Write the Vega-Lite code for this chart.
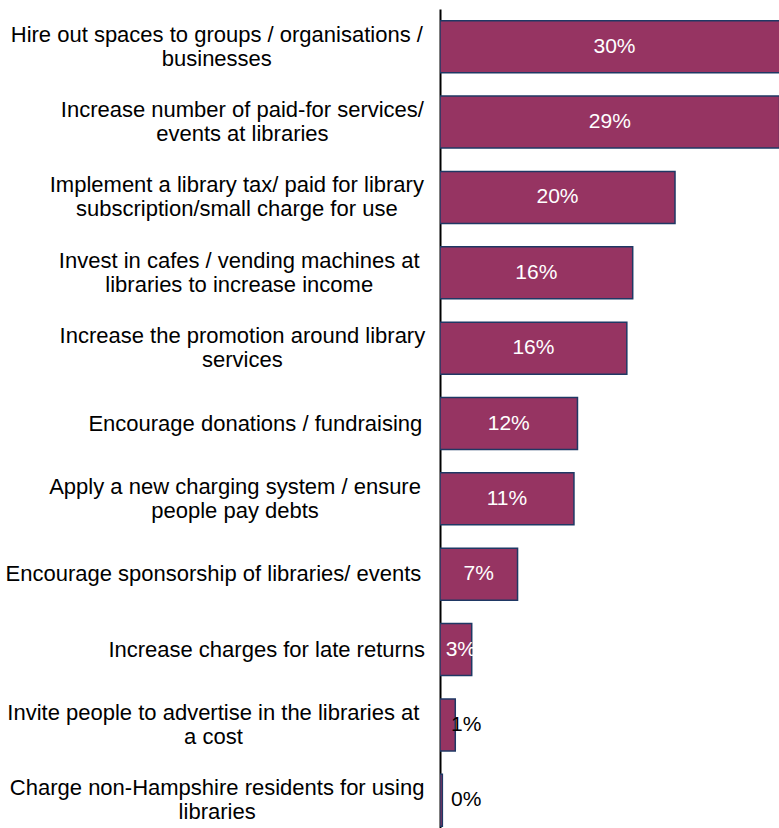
{
  "$schema": "https://vega.github.io/schema/vega-lite/v6.json",
  "width": 339,
  "height": 829,
  "autosize": "none",
  "padding": {"left": 440, "top": 9, "right": 0, "bottom": 0},
  "background": "white",
  "config": {"view": {"stroke": null}, "font": "Liberation Sans"},
  "data": {
    "values": [
      {"category": "Hire out spaces to groups / organisations /|businesses", "value": 0.297},
      {"category": "Increase number of paid-for services/|events at libraries", "value": 0.289},
      {"category": "Implement a library tax/ paid for library|subscription/small charge for use", "value": 0.200},
      {"category": "Invest in cafes / vending machines at|libraries to increase income", "value": 0.164},
      {"category": "Increase the promotion around library|services", "value": 0.159},
      {"category": "Encourage donations / fundraising", "value": 0.117},
      {"category": "Apply a new charging system / ensure|people pay debts", "value": 0.114},
      {"category": "Encourage sponsorship of libraries/ events", "value": 0.066},
      {"category": "Increase charges for late returns", "value": 0.027},
      {"category": "Invite people to advertise in the libraries at |a cost", "value": 0.013},
      {"category": "Charge non-Hampshire residents for using|libraries", "value": 0.002}
    ]
  },
  "encoding": {
    "y": {
      "field": "category",
      "type": "nominal",
      "sort": null,
      "scale": {"paddingInner": 0.31, "paddingOuter": 0.155},
      "axis": {
        "title": null,
        "ticks": false,
        "tickSize": 0,
        "domain": true,
        "domainColor": "#000000",
        "domainWidth": 2,
        "grid": false,
        "labelFont": "Liberation Sans",
        "labelFontSize": 22,
        "labelColor": "#000000",
        "labelLineHeight": 24,
        "labelAlign": "center",
        "labelPadding": 18,
        "labelLimit": 0,
        "labelExpr": "split(datum.label, '|')",
        "encoding": {
          "labels": {
            "dx": {"value": {"expr": "-11*max(0.55*length(split(datum.value,'|')[0]) - 0.285*length(replace(split(datum.value,'|')[0], regexp('[^iljtfrI /-]','g'), '')) + 0.18*length(replace(split(datum.value,'|')[0], regexp('[^A-HJ-Zw]','g'), '')) + 0.3*length(replace(split(datum.value,'|')[0], regexp('[^m]','g'), '')), 0.55*length(peek(split(datum.value,'|'))) - 0.285*length(replace(peek(split(datum.value,'|')), regexp('[^iljtfrI /-]','g'), '')) + 0.18*length(replace(peek(split(datum.value,'|')), regexp('[^A-HJ-Zw]','g'), '')) + 0.3*length(replace(peek(split(datum.value,'|')), regexp('[^m]','g'), '')))"}},
            "dy": {"value": {"expr": "-12*(length(split(datum.value,'|'))-1)"}}
          }
        }
      }
    }
  },
  "layer": [
    {
      "mark": {"type": "bar", "fill": "#963462", "stroke": "#1f3864", "strokeWidth": 1.5, "clip": true},
      "encoding": {
        "x": {"field": "value", "type": "quantitative", "scale": {"domain": [0, 0.2885], "nice": false, "zero": true}, "axis": null}
      }
    },
    {
      "transform": [{"filter": "datum.value >= 0.02"}],
      "mark": {"type": "text", "color": "#ffffff", "font": "Liberation Sans", "fontSize": 21, "align": "center", "baseline": "middle", "dx": {"expr": "-scale('x', datum.value)/2 + (datum.value < 0.05 ? 5 : 0)"}},
      "encoding": {
        "x": {"field": "value", "type": "quantitative"},
        "text": {"field": "value", "type": "quantitative", "format": ".0%"}
      }
    },
    {
      "transform": [{"filter": "datum.value < 0.02"}],
      "mark": {"type": "text", "color": "#000000", "font": "Liberation Sans", "fontSize": 21, "align": "left", "baseline": "middle", "dx": 11},
      "encoding": {
        "x": {"datum": 0, "type": "quantitative"},
        "text": {"field": "value", "type": "quantitative", "format": ".0%"}
      }
    }
  ]
}
